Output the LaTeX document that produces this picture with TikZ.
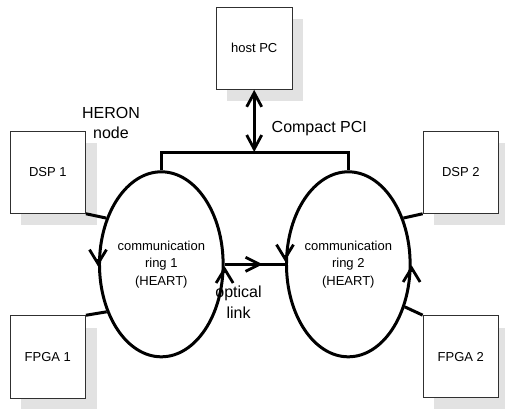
\documentclass[tikz,border=0pt]{standalone}
\usepackage{fontspec}
\setmainfont{Liberation Sans}
\usetikzlibrary{shapes.geometric,arrows.meta,shadows,decorations.markings}

\definecolor{shadowgray}{HTML}{E2E2E2}
\definecolor{boxline}{HTML}{303030}

\tikzset{
  unitbox/.style={draw=boxline, line width=0.8pt, fill=white,
    minimum width=75.5pt, minimum height=82.3pt, inner sep=0pt,
    font=\fontsize{13}{16}\selectfont,
    general shadow={fill=shadowgray, shadow xshift=11pt, shadow yshift=-12pt}},
  ring/.style={ellipse, draw, line width=3pt, minimum width=110pt,
    minimum height=185pt, inner sep=0pt, align=center,
    font=\fontsize{13}{17.5}\selectfont},
  wire/.style={line width=3pt},
  barb/.style={line width=2.8pt, -{Straight Barb[length=14pt,width=17pt]}},
  dblbarb/.style={line width=2.8pt, {Straight Barb[length=14pt,width=15pt]}-{Straight Barb[length=14pt,width=15pt]}},
  lbl/.style={align=center, inner sep=0pt, font=\fontsize{16}{20.5}\selectfont},
}

\begin{document}
\begin{tikzpicture}[x=1pt, y=-1pt]
  \useasboundingbox[fill=white] (0,0) rectangle (505,408);

  % processing units and host
  \node[unitbox] (host)  at (254.2,48.3)  {host PC};
  \node[unitbox] (dsp1)  at (47.8,172.2)  {DSP 1};
  \node[unitbox] (fpga1) at (47.8,356.8)  {FPGA 1};
  \node[unitbox] (dsp2)  at (460.8,172.2) {DSP 2};
  \node[unitbox] (fpga2) at (460.8,356.7) {FPGA 2};

  % communication rings
  \node[ring] (r1) at (161.3,264.3) {communication\\ring 1\\(HEART)};
  \node[ring] (r2) at (348.3,264.3) {communication\\ring 2\\(HEART)};

  % unit connections to the rings
  \draw[wire] (dsp1.south east) -- (r1.140);
  \draw[wire] (fpga1.north east) -- (r1.221);
  \draw[wire] (dsp2.south west) -- (r2.40);
  \draw[wire] (fpga2.north west) -- (r2.-37);

  % Compact PCI bus
  \coordinate (busL) at (161.3,152);
  \draw[wire, line join=miter] (r1.north) -- (busL) -| (r2.north);
  \draw[dblbarb] (host.south) -- (host.south |- busL);

  % optical link between the rings
  \draw[wire, postaction={decorate, decoration={markings,
      mark=at position 0.63 with {\arrow[line width=2.8pt]{Straight Barb[length=14pt,width=14pt]}}}}]
    (r1.east) -- (r2.west);

  % direction of travel around each ring
  \draw[barb] ([yshift=5pt]r1.west) -- ([yshift=-2pt]r1.west);
  \draw[barb] ([yshift=-9pt]r1.east) -- ([yshift=-2pt]r1.east);
  \draw[barb] ([yshift=9pt]r2.west) -- ([yshift=3pt]r2.west);
  \draw[barb] ([yshift=-8pt]r2.east) -- ([yshift=-1pt]r2.east);

  % labels
  \node[lbl] (heron) at (111,123) {HERON\\node};
  \node[lbl, anchor=west] (pci) at (271.5,129) {Compact PCI};
  \node[lbl] (optical) at (238.5,302) {optical\\link};
\end{tikzpicture}
\end{document}
